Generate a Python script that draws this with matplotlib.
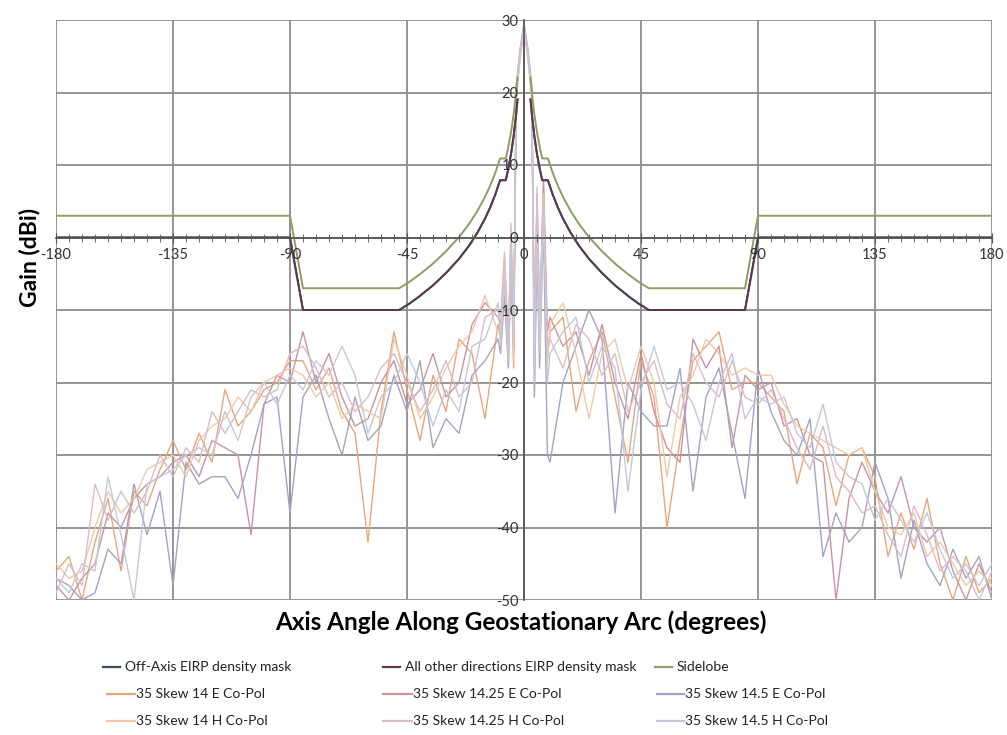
import matplotlib
matplotlib.use("Agg")
import matplotlib.pyplot as plt
from matplotlib.lines import Line2D

plt.rcParams["font.family"] = ["Lato", "DejaVu Sans"]
plt.rcParams["axes.unicode_minus"] = False

# ---- angle grid shared by the six measured patterns (degrees) ---------------
ANGLES = [-180, -175, -170, -165, -160, -155, -150, -145, -140, -135, -130,
          -125, -120, -115, -110, -105, -100, -95, -90, -85, -80, -75, -70,
          -65, -60, -55, -50, -45, -40, -35, -30, -25, -20, -15, -10,
          -9, -7.5, -6, -5, -4, -3, -1.5, 0, 1.5, 3, 4, 5, 6, 7.5, 9,
          10, 15, 20, 25, 30, 35, 40, 45, 50, 55, 60, 65, 70, 75, 80, 85, 90,
          95, 100, 105, 110, 115, 120, 125, 130, 135, 140, 145, 150, 155, 160,
          165, 170, 175, 180]

SKEW14_E = [-46, -44, -50, -42, -36, -46, -35, -37, -32, -28, -32, -27, -31,
            -21, -26, -24, -21, -20, -17, -17, -21, -18, -24, -27, -42, -24,
            -13, -21, -28, -19, -24, -14, -16, -25, -12,
            -14, -3, -17, -2, -18, 19, 25, 29, 25, 19, -12, 3, -14, 7, -17,
            -13, -11, -24, -17, -13, -22, -31, -17, -22, -40, -28, -17, -15,
            -13, -21, -20, -20, -22, -24, -34, -27, -29, -37, -30, -29, -33,
            -44, -38, -43, -36, -45, -50, -44, -49, -47]
SKEW1425_E = [-48, -50, -47, -45, -38, -40, -36, -34, -33, -31, -30, -33, -28,
              -29, -30, -41, -23, -19, -20, -13, -20, -16, -22, -26, -25, -20,
              -17, -23, -21, -16, -22, -20, -12, -9, -11,
              -12, -5, -15, 1, -16, 20, 25.5, 29.2, 25.5, 20, -15, 6, -12, 8,
              -13,
              -11, -15, -13, -19, -12, -20, -25, -16, -24, -29, -31, -14, -18,
              -15, -29, -19, -21, -20, -26, -25, -30, -31, -50, -36, -31, -35,
              -38, -33, -40, -42, -40, -46, -50, -45, -49]
SKEW145_E = [-47, -48, -50, -49, -43, -45, -34, -41, -35, -48, -31, -34, -33,
             -33, -36, -30, -23, -22, -38, -22, -19, -25, -30, -22, -28, -26,
             -19, -24, -17, -29, -25, -27, -19, -17, -14,
             -16, -8, -18, -3, -14, 21, 26, 29.6, 26, 21, -22, -2, -18, 2, -30,
             -31, -20, -15, -10, -14, -38, -20, -24, -26, -26, -18, -35, -22,
             -18, -27, -36, -18, -24, -28, -30, -25, -44, -38, -42, -40, -31,
             -36, -47, -39, -45, -48, -43, -47, -44, -50]
SKEW14_H = [-45, -47, -46, -40, -35, -38, -36, -32, -31, -30, -33, -28, -26,
            -25, -22, -24, -20, -19, -18, -19, -22, -20, -25, -23, -24, -25,
            -14, -19, -25, -22, -18, -15, -13, -8, -13,
            -13, -4, -17, 0, -17, 19.5, 24.5, 28.8, 24.5, 19.5, -14, 4, -15, 6,
            -17,
            -12, -9, -16, -25, -16, -14, -21, -15, -20, -33, -22, -19, -14,
            -16, -19, -18, -19, -19, -23, -26, -27, -28, -29, -30, -29, -35,
            -40, -41, -38, -44, -42, -45, -48, -46, -48]
SKEW1425_H = [-49, -45, -48, -34, -39, -35, -38, -35, -30, -33, -29, -31, -24,
              -27, -24, -21, -22, -21, -16, -15, -18, -22, -20, -24, -22, -18,
              -16, -20, -24, -21, -17, -22, -20, -11, -10,
              -11, -2, -14, 2, -15, 20.5, 25.8, 29.3, 25.8, 20.5, -17, 7, -10, 5,
              -15,
              -14, -18, -12, -14, -19, -16, -24, -20, -17, -23, -25, -16, -20,
              -22, -17, -22, -23, -21, -25, -29, -32, -26, -33, -35, -38, -37,
              -41, -44, -37, -41, -46, -44, -46, -50, -46]
SKEW145_H = [-47, -49, -45, -46, -33, -41, -50, -34, -33, -32, -30, -29, -30,
             -24, -28, -22, -20, -23, -19, -21, -17, -19, -15, -19, -27, -22,
             -20, -16, -20, -26, -21, -24, -15, -14, -9,
             -15, -6, -16, -1, -13, 20, 25, 29, 25, 20, -20, 1, -16, 3, -20,
             -16, -13, -11, -20, -15, -18, -35, -21, -15, -21, -20, -23, -28,
             -20, -16, -25, -22, -23, -22, -27, -29, -23, -31, -33, -34, -39,
             -36, -39, -42, -38, -43, -47, -45, -48, -45]

SERIES = [SKEW14_E, SKEW1425_E, SKEW145_E, SKEW14_H, SKEW1425_H, SKEW145_H]
SERIES_LABELS = ["35 Skew 14 E Co-Pol", "35 Skew 14.25 E Co-Pol",
                 "35 Skew 14.5 E Co-Pol", "35 Skew 14 H Co-Pol",
                 "35 Skew 14.25 H Co-Pol", "35 Skew 14.5 H Co-Pol"]
SERIES_COLORS = ["#eaa57a", "#c9949e", "#a3a3c6", "#f2c8a4", "#dcbcc6",
                 "#c4c8dc"]

# ---- masks (one branch per side, NaN breaks the line at boresight) ---------
MASK_ANGLES = [-180, -90, -85, -48, -44, -40, -35, -30, -25, -21, -18, -15,
               -13, -11, -9.2, -7, -6, -5, -4, -3, -2.5, float("nan"),
               2.5, 3, 4, 5, 6, 7, 9.2, 11, 13, 15, 18, 21, 25, 30, 35, 40, 44,
               48, 85, 90, 180]
OFFAXIS_MASK = [0, 0, -10, -10, -9.1, -8.05, -6.6, -4.9, -2.95, -1.06, 0.62,
                2.6, 4.15, 5.97, 7.9, 7.9, 9.55, 11.5, 13.95, 17.07, 19.05,
                float("nan"),
                19.05, 17.07, 13.95, 11.5, 9.55, 7.9, 7.9, 5.97, 4.15, 2.6,
                0.62, -1.06, -2.95, -4.9, -6.6, -8.05, -9.1, -10, -10, 0, 0]
OTHER_MASK = list(OFFAXIS_MASK)
SIDELOBE = [3, 3, -7, -7, -6.1, -5.05, -3.6, -1.9, 0.05, 1.94, 3.62, 5.6, 7.15,
            8.97, 10.9, 10.9, 12.55, 14.5, 16.95, 20.07, 22.05, float("nan"),
            22.05, 20.07, 16.95, 14.5, 12.55, 10.9, 10.9, 8.97, 7.15, 5.6,
            3.62, 1.94, 0.05, -1.9, -3.6, -5.05, -6.1, -7, -7, 3, 3]

MASK_LABELS = ["Off-Axis EIRP density mask",
               "All other directions EIRP density mask", "Sidelobe"]
MASK_COLORS = ["#3e4b66", "#5c3a4c", "#909c62"]

X_TICKS = list(range(-180, 181, 45))
Y_TICKS = list(range(-50, 31, 10))

fig = plt.figure(figsize=(10.07, 7.35), dpi=100)
ax = fig.add_axes([56 / 1007, 1 - 600 / 735, 936 / 1007, 580 / 735])

# grid drawn by hand, below the data, so tick labels can sit above the data
for xv in X_TICKS:
    ax.axvline(xv, color="#8c8c8c", lw=1.3, zorder=1)
for yv in Y_TICKS:
    ax.axhline(yv, color="#8c8c8c", lw=1.3, zorder=1)

for vals, col in zip(SERIES, SERIES_COLORS):
    ax.plot(ANGLES, vals, color=col, lw=1.0, zorder=2)
for vals, col in zip([OFFAXIS_MASK, OTHER_MASK, SIDELOBE], MASK_COLORS):
    ax.plot(MASK_ANGLES, vals, color=col, lw=1.4, zorder=2.2)

ax.set_xlim(-180, 180)
ax.set_ylim(-50, 30)
ax.set_xticks(X_TICKS)
ax.set_xticks(range(-180, 181, 5), minor=True)
ax.set_yticks(Y_TICKS)
for s in ("top", "right"):
    ax.spines[s].set_visible(False)
ax.spines["left"].set_position(("data", 0))
ax.spines["bottom"].set_position(("data", 0))
for s in ("left", "bottom"):
    ax.spines[s].set_color("#555555")
    ax.spines[s].set_linewidth(1.2)
ax.tick_params(axis="x", which="major", direction="inout", length=7,
               color="#555555", labelsize=10.5, pad=4, labelcolor="#333333")
ax.tick_params(axis="x", which="minor", direction="inout", length=6,
               color="#555555")
ax.tick_params(axis="y", length=0, labelsize=10.5, pad=4, labelcolor="#333333")
ax.set_axisbelow(False)

fig.text(30 / 1007, 1 - 257 / 735, "Gain (dBi)", rotation=90, fontsize=16.5,
         fontweight="bold", ha="center", va="center")
fig.text(521 / 1007, 1 - 622 / 735,
         "Axis Angle Along Geostationary Arc (degrees)", fontsize=17.5,
         fontweight="bold", ha="center", va="center")

# ---- legend laid out like the spreadsheet one ------------------------------
W, H = 1007.0, 735.0
entries = [
    (MASK_LABELS[0], MASK_COLORS[0], 103, 120, 125, 667),
    (MASK_LABELS[1], MASK_COLORS[1], 383, 400, 405, 667),
    (MASK_LABELS[2], MASK_COLORS[2], 655, 672, 677, 667),
    (SERIES_LABELS[0], SERIES_COLORS[0], 107, 135, 136, 694),
    (SERIES_LABELS[1], SERIES_COLORS[1], 383, 412, 413, 694),
    (SERIES_LABELS[2], SERIES_COLORS[2], 657, 684, 685, 694),
    (SERIES_LABELS[3], SERIES_COLORS[3], 107, 135, 136, 721),
    (SERIES_LABELS[4], SERIES_COLORS[4], 383, 412, 413, 721),
    (SERIES_LABELS[5], SERIES_COLORS[5], 657, 684, 685, 721),
]
for text, col, x0, x1, tx, y in entries:
    fig.add_artist(Line2D([x0 / W, x1 / W], [1 - y / H, 1 - y / H],
                          color=col, lw=1.6, transform=fig.transFigure))
    fig.text(tx / W, 1 - y / H, text, fontsize=10, ha="left", va="center",
             color="#222222")

fig.savefig("out.png", dpi=100)
